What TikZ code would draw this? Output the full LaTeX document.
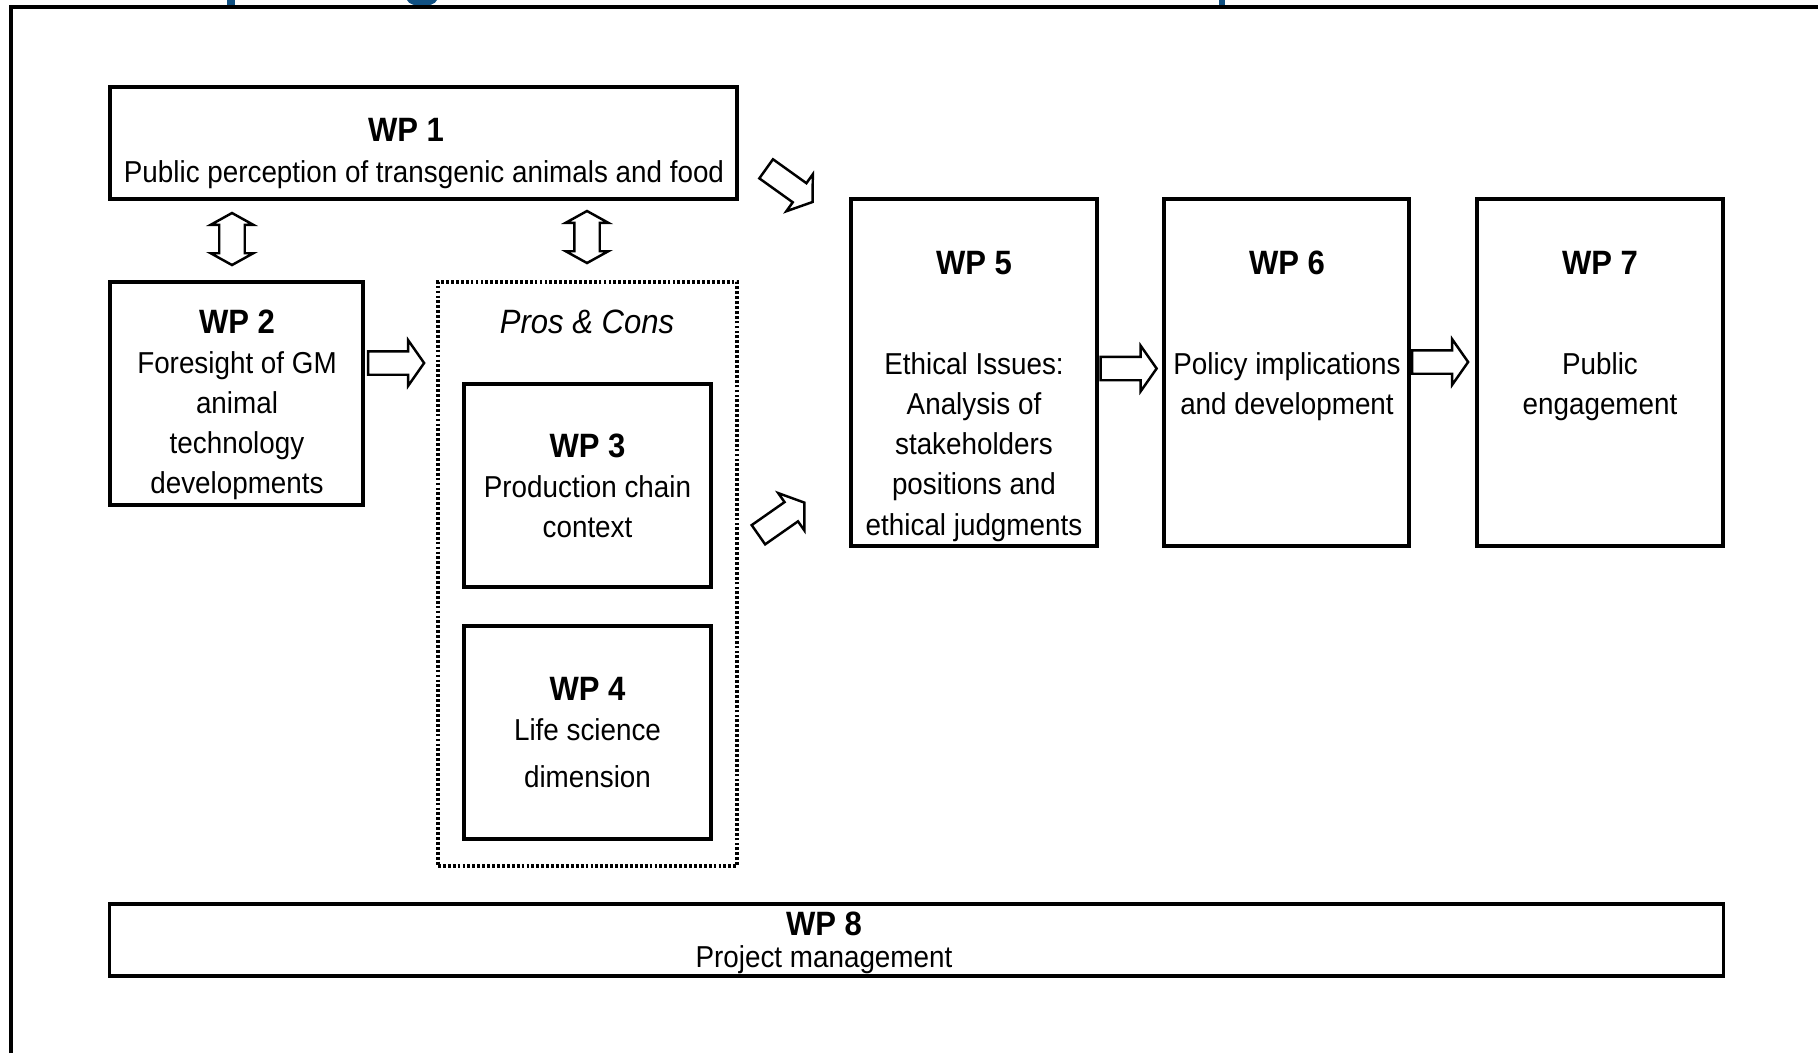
\documentclass[tikz,border=0pt]{standalone}
\usepackage{fontspec}
\setmainfont{Liberation Sans}[FakeStretch=0.92]
\usetikzlibrary{shapes}
\definecolor{titleblue}{RGB}{16,80,130}
\newcommand{\wpnum}[1]{{\fontsize{9.6}{11.4}\selectfont\bfseries WP #1}}

\begin{document}
\begin{tikzpicture}[x=0.01cm, y=-0.01cm, align=center, inner sep=0pt,
  font=\fontsize{8.6}{11.4}\selectfont,
  wp/.style={draw, line width=1pt},
  txt/.style={anchor=north},
  fat/.style={draw, line width=0.7pt, single arrow, inner sep=0.105cm, single arrow head extend=0.11cm,
    single arrow tip angle=110, minimum width=0.43cm, minimum height=0.56cm},
  twin/.style={draw, line width=0.7pt, double arrow, inner sep=0.115cm, double arrow head extend=0.085cm,
    double arrow tip angle=122, minimum width=0.40cm, minimum height=0.52cm, rotate=90}]
\useasboundingbox (0,0) rectangle (1818,1053);

\fill[titleblue] (227,0) rectangle (235,6);
\fill[titleblue] (407,0) .. controls (410,8) and (434,8) .. (437,0) -- cycle;
\fill[titleblue] (1219,0) rectangle (1225,6);
\draw[line width=1.1pt] (11,1053) -- (11,7) -- (1818,7);

\node[wp, minimum width=6.27cm, minimum height=1.12cm] (1) at (423.5,143) {};
\node[txt] (1t) at (424,118) {\hspace*{-0.36cm}\wpnum{1}\\Public perception of transgenic animals and food};
\node[wp, minimum width=2.53cm, minimum height=2.23cm] (2) at (236.5,393.5) {};
\node[txt] (2t) at (237,309) {\wpnum{2}\\Foresight of GM\\animal\\technology\\developments};
\node[draw, line width=1.2pt, dash pattern=on 0.8pt off 0.6pt,
  minimum width=2.99cm, minimum height=5.84cm] (pc) at (587.5,574) {};
\node[font=\fontsize{9.6}{11.4}\selectfont\itshape] (pct) at (587,322) {Pros \& Cons};
\node[wp, minimum width=2.47cm, minimum height=2.03cm] (3) at (587.5,485.5)
  {\wpnum{3}\\Production chain\\context};
\node[wp, minimum width=2.47cm, minimum height=2.13cm] (4) at (587.5,732.5)
  {\wpnum{4}\\Life science\\[2pt]dimension};
\node[wp, minimum width=2.46cm, minimum height=3.47cm] (5) at (974,372.5) {};
\node (5t) at (974,263) {\wpnum{5}};
\node[txt] (5b) at (974,352) {Ethical Issues:\\Analysis of\\stakeholders\\positions and\\ethical judgments};
\node[wp, minimum width=2.45cm, minimum height=3.47cm] (6) at (1286.5,372.5) {};
\node (6t) at (1287,263) {\wpnum{6}};
\node[txt] (6b) at (1287,352) {Policy implications\\and development};
\node[wp, minimum width=2.46cm, minimum height=3.47cm] (7) at (1600,372.5) {};
\node (7t) at (1600,263) {\wpnum{7}};
\node[txt] (7b) at (1600,352) {Public\\engagement};
\node[wp, minimum width=16.13cm, minimum height=0.72cm] (8) at (916.5,940) {};
\node[txt, font=\fontsize{8.6}{9.1}\selectfont] (8t) at (824,911) {\wpnum{8}\\Project management};

\node[twin] (a12) at (232,239) {};
\node[twin] (a1pc) at (587,237) {};
\node[fat] (a2pc) at (392,363) {};
\node[fat, rotate=-35.6, minimum height=0.57cm] (a15) at (786,183) {};
\node[fat, rotate=35] (a35) at (778,521) {};
\node[fat] (a56) at (1124.5,368.5) {};
\node[fat] (a67) at (1436,362) {};
\end{tikzpicture}
\end{document}
